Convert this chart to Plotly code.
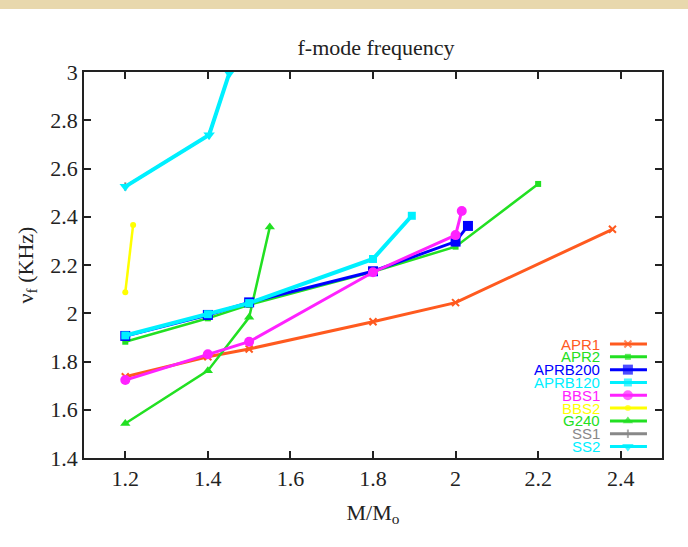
import plotly.graph_objects as go

# ---- data (M/Mo, f-mode frequency in kHz) ----
APR1_M = [1.2, 1.4, 1.5, 1.8, 2.0, 2.38]
APR1_F = [1.737, 1.820, 1.852, 1.965, 2.044, 2.348]
APR2_M = [1.2, 1.4, 1.5, 1.8, 2.0, 2.2]
APR2_F = [1.882, 1.979, 2.035, 2.172, 2.276, 2.536]
APRB200_M = [1.2, 1.4, 1.5, 1.8, 2.0, 2.03]
APRB200_F = [1.906, 1.993, 2.045, 2.174, 2.297, 2.362]
APRB120_M = [1.2, 1.4, 1.5, 1.8, 1.894]
APRB120_F = [1.908, 1.996, 2.042, 2.225, 2.404]
BBS1_M = [1.2, 1.4, 1.5, 1.8, 2.0, 2.015]
BBS1_F = [1.723, 1.830, 1.882, 2.170, 2.324, 2.424]
BBS2_M = [1.2, 1.219]
BBS2_F = [2.087, 2.366]
G240_M = [1.2, 1.4, 1.5, 1.55]
G240_F = [1.543, 1.762, 1.983, 2.357]
SS1_M = [1.2, 1.403, 1.452]
SS1_F = [2.525, 2.739, 2.995]
SS2_M = [1.2, 1.403, 1.452]
SS2_F = [2.525, 2.739, 2.995]

NAMES = ["APR1", "APR2", "APRB200", "APRB120", "BBS1", "BBS2", "G240", "SS1", "SS2"]
X_TICKS = [1.2, 1.4, 1.6, 1.8, 2.0, 2.2, 2.4]
X_TICKTEXT = ["1.2", "1.4", "1.6", "1.8", "2", "2.2", "2.4"]
Y_TICKS = [1.4, 1.6, 1.8, 2.0, 2.2, 2.4, 2.6, 2.8, 3.0]
Y_TICKTEXT = ["1.4", "1.6", "1.8", "2", "2.2", "2.4", "2.6", "2.8", "3"]

series = {
    "APR1": (APR1_M, APR1_F),
    "APR2": (APR2_M, APR2_F),
    "APRB200": (APRB200_M, APRB200_F),
    "APRB120": (APRB120_M, APRB120_F),
    "BBS1": (BBS1_M, BBS1_F),
    "BBS2": (BBS2_M, BBS2_F),
    "G240": (G240_M, G240_F),
    "SS1": (SS1_M, SS1_F),
    "SS2": (SS2_M, SS2_F),
}

style = {
    "APR1": dict(color="#ff5a1f", width=3, symbol="x-thin-open", size=7),
    "APR2": dict(color="#22e022", width=2.5, symbol="square", size=6),
    "APRB200": dict(color="#0000ff", width=3, symbol="square", size=10),
    "APRB120": dict(color="#00f0ff", width=4, symbol="square", size=8),
    "BBS1": dict(color="#ff22ff", width=3, symbol="circle", size=10),
    "BBS2": dict(color="#ffff00", width=2.5, symbol="circle", size=6),
    "G240": dict(color="#22e022", width=2.5, symbol="triangle-up", size=9),
    "SS1": dict(color="#888888", width=2.5, symbol="line-ns-open", size=6),
    "SS2": dict(color="#00f0ff", width=4, symbol="triangle-down", size=10),
}

fig = go.Figure()

draw_order = ["SS1", "SS2", "BBS2", "APR1", "G240", "APR2", "APRB200", "APRB120", "BBS1"]
for n in draw_order:
    m, f = series[n]
    s = style[n]
    fig.add_trace(go.Scatter(
        x=m, y=f, mode="lines+markers", name=n, showlegend=False,
        line=dict(color=s["color"], width=s["width"]),
        marker=dict(color=s["color"], symbol=s["symbol"], size=s["size"],
                    line=dict(color=s["color"], width=2 if "open" in s["symbol"] else 0)),
        cliponaxis=True,
    ))

# ---- custom legend (label, then a sample line to its right, gnuplot style) ----
row0 = 0.2953
step = 0.0332
annotations = []
for i, n in enumerate(NAMES):
    s = style[n]
    yy = row0 - i * step
    fig.add_trace(go.Scatter(
        x=[0.910, 0.941, 0.974], y=[yy, yy, yy], mode="lines+markers",
        xaxis="x2", yaxis="y2", showlegend=False, hoverinfo="skip",
        line=dict(color=s["color"], width=3),
        marker=dict(color=s["color"], symbol=s["symbol"],
                    size=[0, s["size"], 0],
                    line=dict(color=s["color"], width=2 if "open" in s["symbol"] else 0)),
    ))
    annotations.append(dict(
        x=0.897, y=yy, xref="paper", yref="paper", xanchor="right", yanchor="middle",
        text=n, showarrow=False,
        font=dict(family="Liberation Sans, Arial, sans-serif", size=15, color=s["color"]),
    ))

serif = "Liberation Serif, Times New Roman, serif"
fig.update_layout(
    width=688, height=547,
    margin=dict(l=84, r=26, t=72, b=89),
    paper_bgcolor="white", plot_bgcolor="white",
    title=dict(text="f-mode frequency", x=0.5465, xanchor="center", y=0.914, yanchor="middle",
               font=dict(family=serif, size=22, color="#222222")),
    xaxis=dict(range=[1.1, 2.5], tickvals=X_TICKS, ticktext=X_TICKTEXT,
               ticks="inside", ticklen=7, tickwidth=1.5, tickcolor="#222",
               showline=True, linecolor="#222", linewidth=1.5, mirror="ticks",
               showgrid=False, zeroline=False,
               tickfont=dict(family=serif, size=22, color="#222"),
               title=dict(text="M/M<sub>o</sub>", font=dict(family=serif, size=22, color="#222"),
                          standoff=14)),
    yaxis=dict(range=[1.4, 3.0], tickvals=Y_TICKS, ticktext=Y_TICKTEXT,
               ticks="inside", ticklen=7, tickwidth=1.5, tickcolor="#222",
               showline=True, linecolor="#222", linewidth=1.5, mirror="ticks",
               showgrid=False, zeroline=False,
               tickfont=dict(family=serif, size=22, color="#222"),
               title=dict(text="ν<sub>f</sub> (KHz)", font=dict(family=serif, size=22, color="#222"),
                          standoff=11)),
    xaxis2=dict(range=[0, 1], overlaying="x", visible=False, fixedrange=True),
    yaxis2=dict(range=[0, 1], overlaying="y", visible=False, fixedrange=True),
    annotations=annotations,
    shapes=[dict(type="rect", xref="paper", yref="paper", x0=-0.2, x1=1.1,
                 y0=1 + 63 / 386, y1=1 + 73 / 386, line=dict(width=0),
                 fillcolor="#e8d8ad", layer="below")],
)

fig.write_html("out.html")
